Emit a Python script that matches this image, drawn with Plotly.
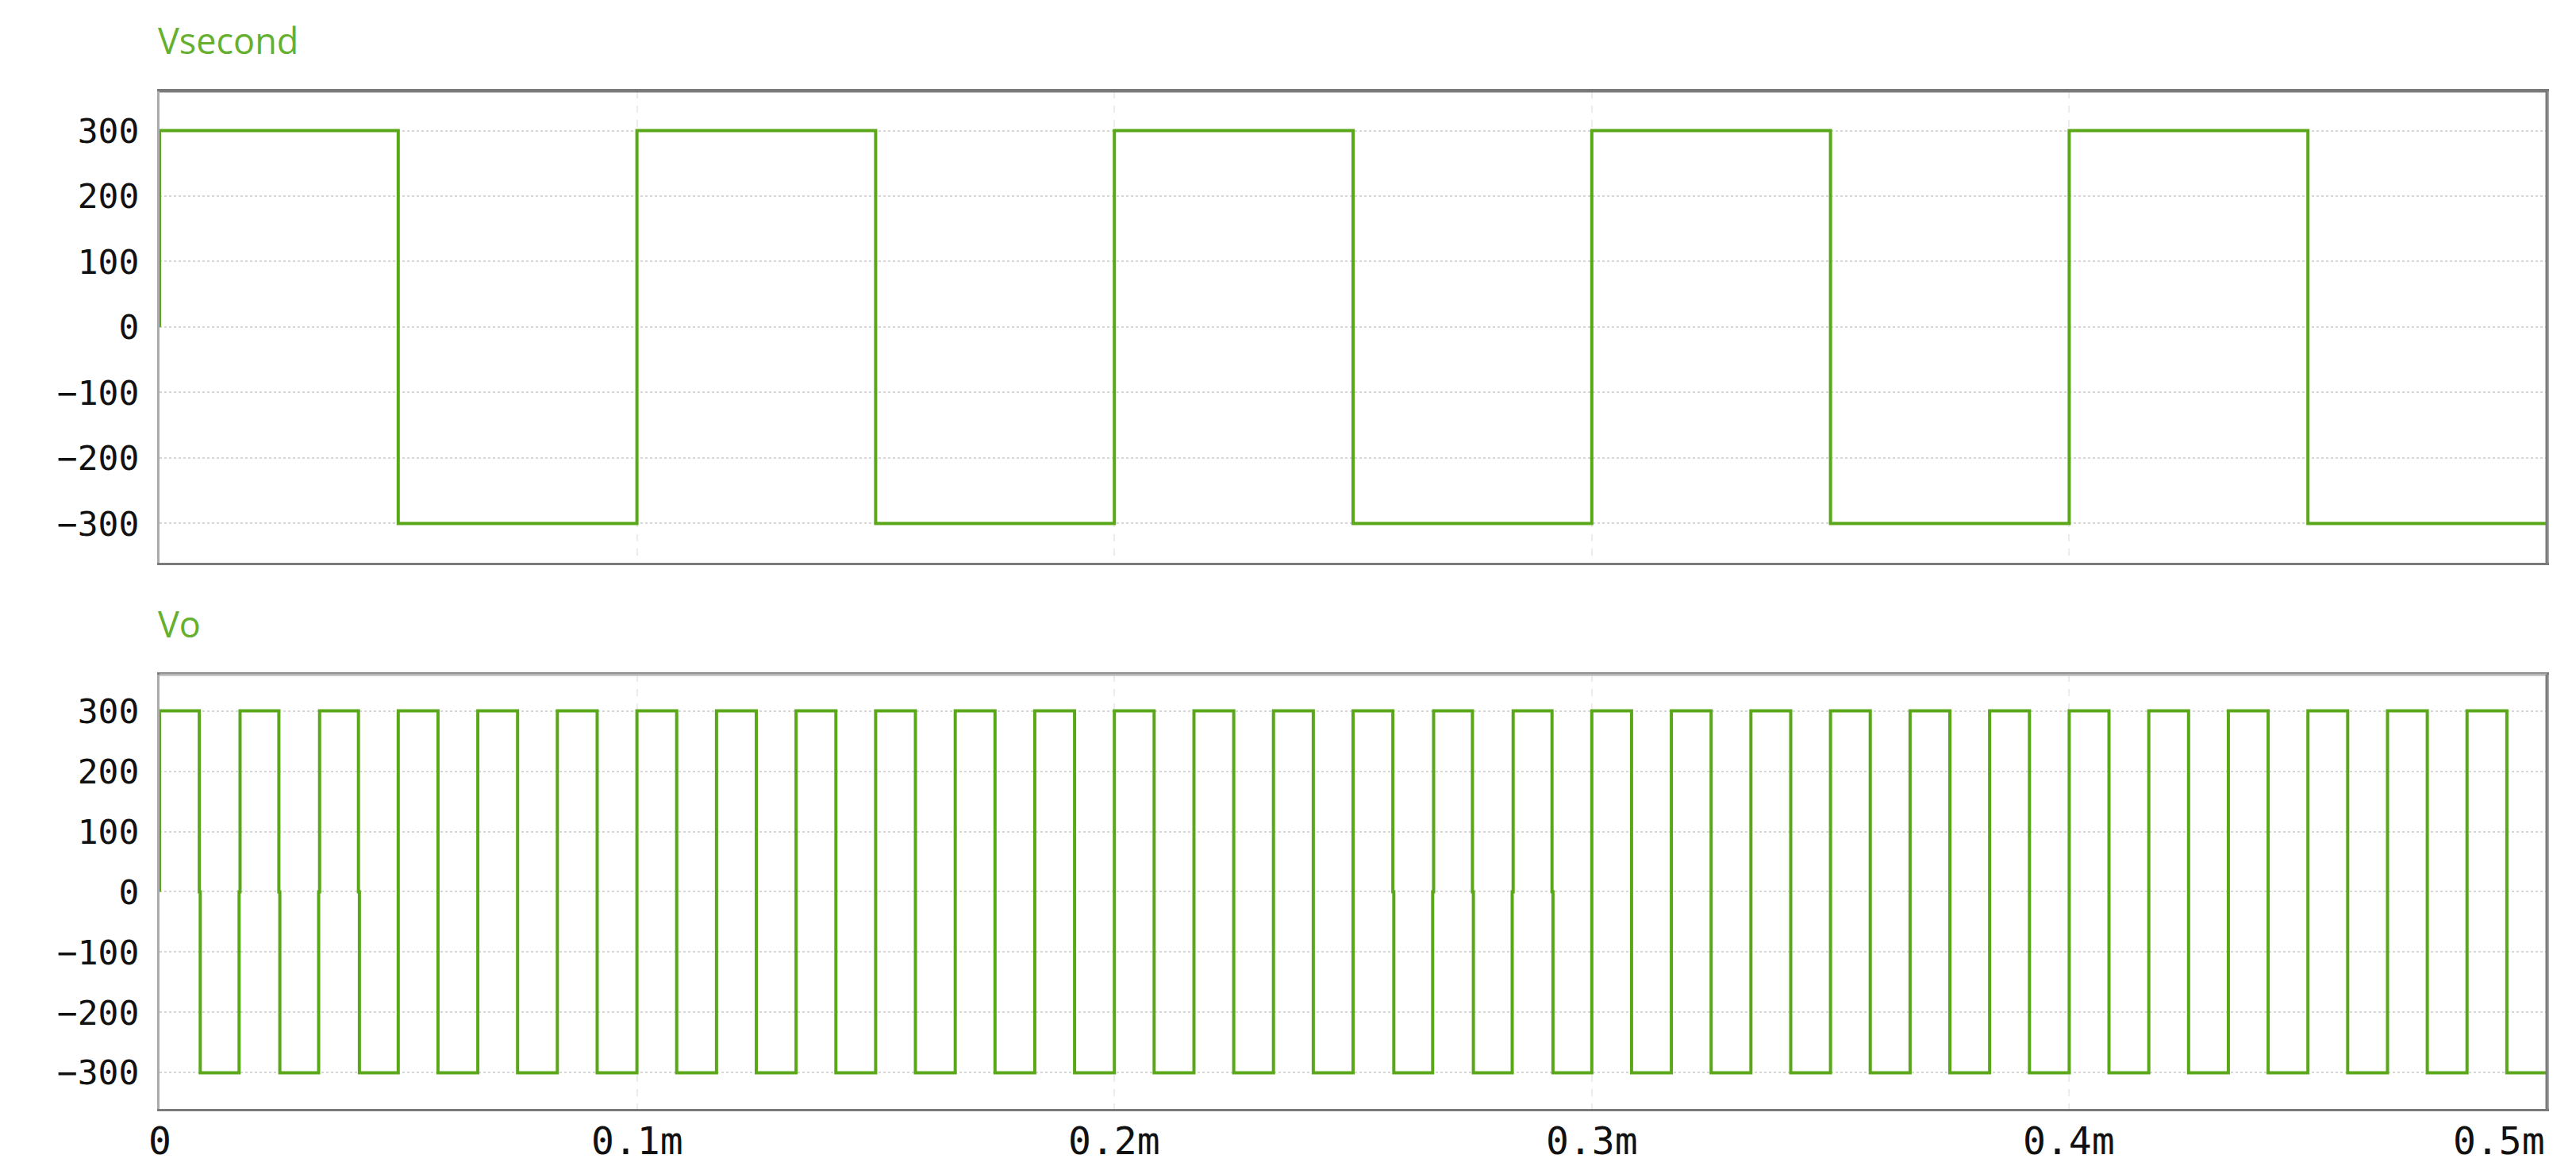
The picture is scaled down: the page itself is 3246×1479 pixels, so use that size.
import plotly.graph_objects as go
from plotly.subplots import make_subplots

# ---- data (time in ms) ----
vsec_edges = [0.05, 0.10, 0.15, 0.20, 0.25, 0.30, 0.35, 0.40, 0.45]
vsec_levels = [300, -300, 300, -300, 300, -300, 300, -300, 300, -300]

vo_edges = [0.00833, 0.01667, 0.025, 0.03333, 0.04167, 0.05, 0.05833, 0.06667, 0.075, 0.08333,
            0.09167, 0.1, 0.10833, 0.11667, 0.125, 0.13333, 0.14167, 0.15, 0.15833, 0.16667,
            0.175, 0.18333, 0.19167, 0.2, 0.20833, 0.21667, 0.225, 0.23333, 0.24167, 0.25,
            0.25833, 0.26667, 0.275, 0.28333, 0.29167, 0.3, 0.30833, 0.31667, 0.325, 0.33333,
            0.34167, 0.35, 0.35833, 0.36667, 0.375, 0.38333, 0.39167, 0.4, 0.40833, 0.41667,
            0.425, 0.43333, 0.44167, 0.45, 0.45833, 0.46667, 0.475, 0.48333, 0.49167]
vo_levels = [300, -300, 300, -300, 300, -300, 300, -300, 300, -300,
             300, -300, 300, -300, 300, -300, 300, -300, 300, -300,
             300, -300, 300, -300, 300, -300, 300, -300, 300, -300,
             300, -300, 300, -300, 300, -300, 300, -300, 300, -300,
             300, -300, 300, -300, 300, -300, 300, -300, 300, -300,
             300, -300, 300, -300, 300, -300, 300, -300, 300, -300]
# edges where the output pauses briefly at 0 V
vo_zero_edges = [0.00833, 0.01667, 0.025, 0.03333, 0.04167,
                 0.25833, 0.26667, 0.275, 0.28333, 0.29167]
vo_zero_hold = 0.0002

t_end = 0.5
x_tickvals = [0, 0.1, 0.2, 0.3, 0.4, 0.5]
x_ticktext = ["0", "0.1m", "0.2m", "0.3m", "0.4m", "0.5m"]
y_tickvals = [-300, -200, -100, 0, 100, 200, 300]


def build_step(edges, levels, zero_edges=(), hold=0.0):
    xs = [0.0, 0.0]
    ys = [0, levels[0]]
    for e, lv in zip(edges, levels[1:]):
        if e in zero_edges:
            xs += [e, e, e + hold, e + hold]
            ys += [ys[-1], 0, 0, lv]
        else:
            xs += [e, e]
            ys += [ys[-1], lv]
    xs.append(t_end)
    ys.append(ys[-1])
    return xs, ys


green = "#5aa81a"

fig = make_subplots(rows=2, cols=1, shared_xaxes=False, vertical_spacing=0.11)

x1, y1 = build_step(vsec_edges, vsec_levels)
x2, y2 = build_step(vo_edges, vo_levels, vo_zero_edges, vo_zero_hold)

fig.add_trace(go.Scatter(x=x1, y=y1, mode="lines", line=dict(color=green, width=4),
                         showlegend=False), row=1, col=1)
fig.add_trace(go.Scatter(x=x2, y=y2, mode="lines", line=dict(color=green, width=4),
                         showlegend=False), row=2, col=1)

mono = "DejaVu Sans Mono"
x_font = dict(family=mono, size=48, color="#111111")
y_font = dict(family=mono, size=43, color="#111111")

for r, dom in ((1, [0.5367, 1.0]), (2, [0.0, 0.4267])):
    fig.update_xaxes(row=r, col=1, range=[0, t_end], tickvals=x_tickvals,
                     showticklabels=False,
                     showgrid=True, gridcolor="#ececec", gridwidth=1.5, griddash="dash",
                     showline=True, linecolor="#7a7a7a", linewidth=3, mirror=True,
                     ticks="", zeroline=False, ticklen=0)
    fig.update_yaxes(row=r, col=1, range=[-360, 360], tickvals=y_tickvals,
                     tickfont=y_font, domain=dom,
                     showgrid=True, gridcolor="#d6d6d6", gridwidth=2, griddash="dot",
                     showline=True, linecolor="#ababab", linewidth=3, mirror=True,
                     ticks="outside", ticklen=14, tickcolor="rgba(0,0,0,0)",
                     zeroline=False)

# x tick labels (last one right-aligned to the frame edge, as in the source)
for i, (tv, tt) in enumerate(zip(x_tickvals, x_ticktext)):
    fig.add_annotation(text=tt, xref="x2", yref="y2 domain", x=tv, y=0,
                       xanchor="right" if i == len(x_tickvals) - 1 else "center",
                       yanchor="top", yshift=-10, showarrow=False, font=x_font)

# lighter top border on lower panel
fig.add_shape(type="line", xref="x2 domain", yref="y2 domain", x0=0, x1=1, y0=1, y1=1,
              line=dict(color="#b5b5b5", width=3))
# darker right borders
for xr, yr in (("x domain", "y domain"), ("x2 domain", "y2 domain")):
    fig.add_shape(type="line", xref=xr, yref=yr, x0=1, x1=1, y0=0, y1=1,
                  line=dict(color="#7a7a7a", width=3))
fig.add_shape(type="line", xref="x domain", yref="y domain", x0=0, x1=1, y0=1, y1=1,
              line=dict(color="#7a7a7a", width=3))

title_font = dict(family="Open Sans", size=45, color="#66b030")
fig.add_annotation(text="Vsecond", xref="x domain", yref="y domain", x=0, y=1,
                   xanchor="left", yanchor="bottom", yshift=32, xshift=-4, showarrow=False,
                   font=title_font)
fig.add_annotation(text="Vo", xref="x2 domain", yref="y2 domain", x=0, y=1,
                   xanchor="left", yanchor="bottom", yshift=32, xshift=-4, showarrow=False,
                   font=title_font)

fig.update_layout(width=3246, height=1479, paper_bgcolor="white", plot_bgcolor="white",
                  margin=dict(l=193, r=45, t=107, b=90), showlegend=False)

fig.write_html("out.html")
